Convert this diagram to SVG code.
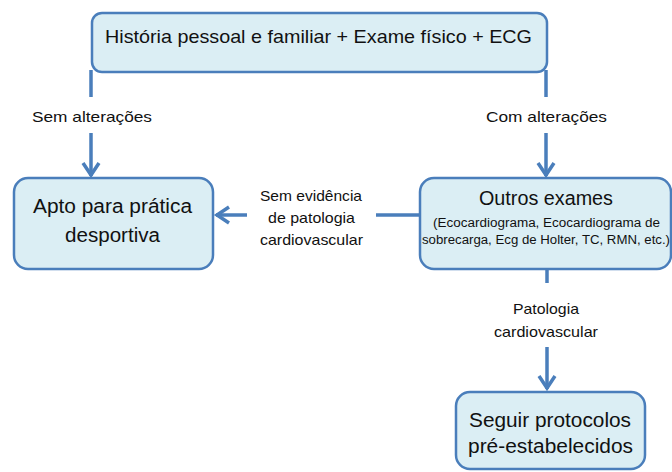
<svg xmlns="http://www.w3.org/2000/svg" width="672" height="472" viewBox="0 0 672 472">
<defs>
<style>
.box{fill:#dbeef4;stroke:#4a7ebb;stroke-width:2.5}
.con{fill:none;stroke:#4a7ebb;stroke-width:3.5}
.t{font-family:"Liberation Sans",Arial,sans-serif;fill:#111;text-anchor:middle}
.big{font-size:20px}
.top{font-size:18.5px}
.lbl{font-size:14.5px}
.sub{font-size:12.5px}
</style>
<marker id="arr" markerUnits="userSpaceOnUse" markerWidth="30" markerHeight="30" viewBox="-15 -15 30 30" refX="0" refY="0" orient="auto" overflow="visible">
<path d="M-13,-8 L-1,0 L-13,8" fill="none" stroke="#4a7ebb" stroke-width="3.5" stroke-linejoin="miter"/>
</marker>
</defs>
<rect width="672" height="472" fill="#ffffff"/>
<g id="connectors">
<line class="con" x1="91" y1="70" x2="91" y2="97"/>
<line class="con" x1="91" y1="133" x2="91" y2="176" marker-end="url(#arr)"/>
<line class="con" x1="546" y1="70" x2="546" y2="97"/>
<line class="con" x1="546" y1="133" x2="546" y2="176" marker-end="url(#arr)"/>
<line class="con" x1="420" y1="215" x2="376" y2="215"/>
<line class="con" x1="247" y1="215" x2="216" y2="215" marker-end="url(#arr)"/>
<line class="con" x1="547" y1="270" x2="547" y2="283"/>
<line class="con" x1="547" y1="347" x2="547" y2="389" marker-end="url(#arr)"/>
</g>
<g id="labels">
<text class="t lbl" x="92" y="122" textLength="120" lengthAdjust="spacingAndGlyphs">Sem alterações</text>
<text class="t lbl" x="546.5" y="122" textLength="121" lengthAdjust="spacingAndGlyphs">Com alterações</text>
<text class="t lbl" x="311" y="201" textLength="102" lengthAdjust="spacingAndGlyphs">Sem evidência</text>
<text class="t lbl" x="311.5" y="223" textLength="87" lengthAdjust="spacingAndGlyphs">de patologia</text>
<text class="t lbl" x="311.5" y="245" textLength="103" lengthAdjust="spacingAndGlyphs">cardiovascular</text>
<text class="t lbl" x="546" y="314" textLength="66" lengthAdjust="spacingAndGlyphs">Patologia</text>
<text class="t lbl" x="546" y="337" textLength="104" lengthAdjust="spacingAndGlyphs">cardiovascular</text>
</g>
<g id="node-historia">
<rect class="box" x="92" y="13" width="455" height="59" rx="10"/>
<text class="t top" x="318.5" y="43" textLength="427" lengthAdjust="spacingAndGlyphs">História pessoal e familiar + Exame físico + ECG</text>
</g>
<g id="node-apto">
<rect class="box" x="14" y="178" width="199" height="91" rx="14"/>
<text class="t big" x="112.5" y="213" textLength="159" lengthAdjust="spacingAndGlyphs">Apto para prática</text>
<text class="t big" x="112.5" y="242" textLength="95" lengthAdjust="spacingAndGlyphs">desportiva</text>
</g>
<g id="node-outros">
<rect class="box" x="420" y="178" width="251" height="91" rx="14"/>
<text class="t big" x="546" y="205" textLength="134" lengthAdjust="spacingAndGlyphs">Outros exames</text>
<text class="t sub" x="546.5" y="227" textLength="227" lengthAdjust="spacingAndGlyphs">(Ecocardiograma, Ecocardiograma de</text>
<text class="t sub" x="546" y="244" textLength="248" lengthAdjust="spacingAndGlyphs">sobrecarga, Ecg de Holter, TC, RMN, etc.)</text>
</g>
<g id="node-seguir">
<rect class="box" x="456" y="392" width="189" height="77" rx="14"/>
<text class="t big" x="550" y="427" textLength="162" lengthAdjust="spacingAndGlyphs">Seguir protocolos</text>
<text class="t big" x="550.5" y="453" textLength="165" lengthAdjust="spacingAndGlyphs">pré-estabelecidos</text>
</g>
</svg>
